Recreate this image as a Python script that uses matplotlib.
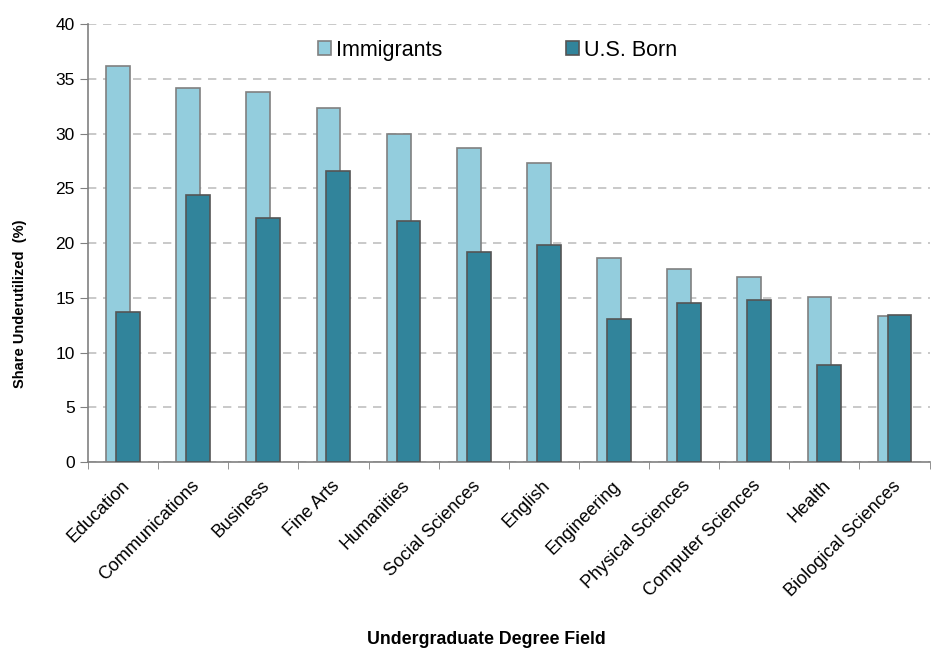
import matplotlib.pyplot as plt
import numpy as np

plt.rcParams['font.family'] = ['Liberation Sans', 'DejaVu Sans']

fields = ['Education', 'Communications', 'Business', 'Fine Arts', 'Humanities',
          'Social Sciences', 'English', 'Engineering', 'Physical Sciences',
          'Computer Sciences', 'Health', 'Biological Sciences']
immigrants = [36.2, 34.2, 33.8, 32.3, 30.0, 28.7, 27.3, 18.6, 17.6, 16.9, 15.1, 13.3]
us_born = [13.7, 24.4, 22.3, 26.6, 22.0, 19.2, 19.8, 13.1, 14.5, 14.8, 8.9, 13.4]

fig = plt.figure(figsize=(9.31, 6.5), dpi=100)
ax = fig.add_axes([0.0945, 0.289, 0.904, 0.674])

x = np.arange(len(fields))
w = 0.34
off = 0.07
ax.bar(x - off, immigrants, w, color='#93CDDD', edgecolor='#808080', linewidth=1.2,
       label='Immigrants', zorder=2)
ax.bar(x + off, us_born, w, color='#31849B', edgecolor='#555555', linewidth=1.2,
       label='U.S. Born', zorder=3)

ax.set_xlim(-0.5, len(fields) - 0.5)
ax.set_ylim(0, 40)
ax.set_yticks(range(0, 41, 5))
ax.yaxis.grid(True, linestyle=(0, (5, 4)), color='#c0c0c0', linewidth=1.2, zorder=0)
ax.set_axisbelow(True)

# labels hang from the category centre
ax.set_xticks(x - 0.03)
ax.set_xticklabels(fields, rotation=45, ha='right', rotation_mode='anchor', fontsize=13)
ax.tick_params(axis='x', length=0, pad=11)
ax.set_xticks(np.arange(-0.5, len(fields), 1), minor=True)
ax.tick_params(axis='x', which='minor', length=5, color='#808080', direction='out')
ax.tick_params(axis='y', length=6, color='#808080', labelsize=12.5)

for s in ['top', 'right']:
    ax.spines[s].set_visible(False)
for s in ['left', 'bottom']:
    ax.spines[s].set_color('#808080')
    ax.spines[s].set_linewidth(1.2)

fig.text(0.021, 0.532, 'Share Underutilized  (%)', rotation=90, ha='center', va='center',
         fontsize=10.5, fontweight='bold')
fig.text(0.522, 0.016, 'Undergraduate Degree Field', ha='center', va='center',
         fontsize=12.8, fontweight='bold')

ax.legend(loc='center left', bbox_to_anchor=(0.273, 0.94), ncol=2, frameon=False,
          fontsize=15.5, handlelength=0.6, handleheight=0.6, handletextpad=0.25,
          columnspacing=5.75, borderpad=0, borderaxespad=0)

fig.savefig('out.png', dpi=100)
